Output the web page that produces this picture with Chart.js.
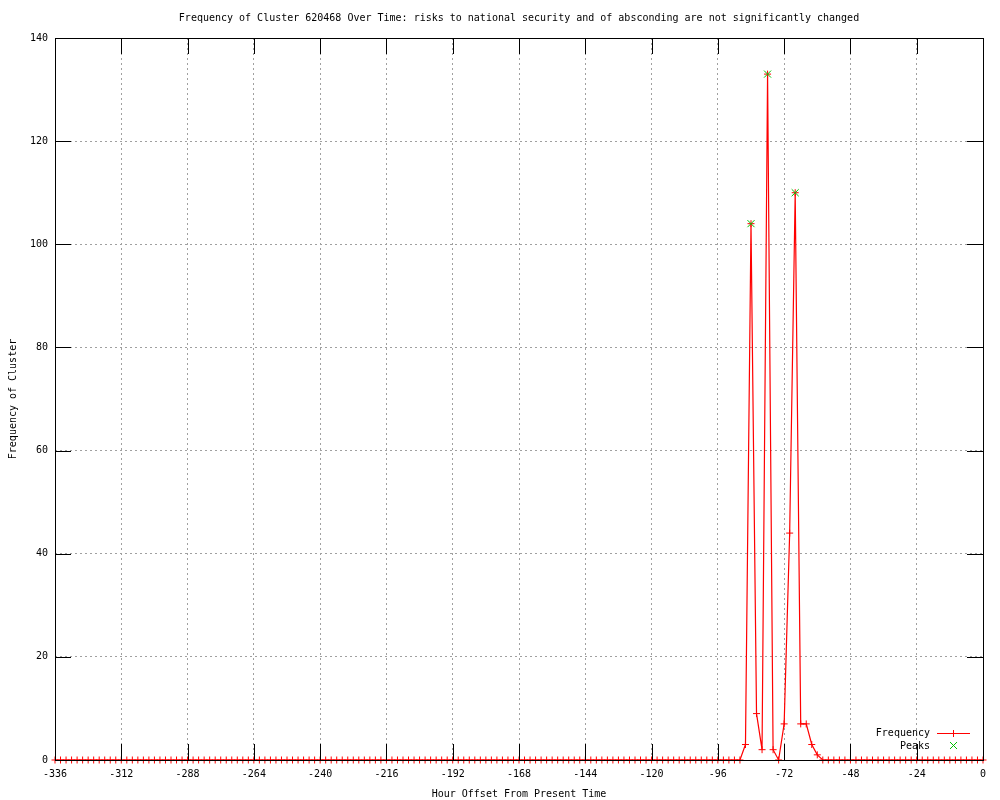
<!DOCTYPE html>
<html>
<head>
<meta charset="utf-8">
<script src="https://cdn.jsdelivr.net/npm/chart.js@4/dist/chart.umd.min.js"></script>
<style>body{margin:0;background:#fff}</style>
</head>
<body>
<canvas id="chart" width="1000" height="800"></canvas>
<script>
const chartTitle = 'Frequency of Cluster 620468 Over Time: risks to national security and of absconding are not significantly changed';

// hour offsets, one sample every 2 hours from -336 to 0
const hours = [];
for (let h = -336; h <= 0; h += 2) hours.push(h);

const frequency = [
    0, 0, 0, 0, 0, 0, 0, 0, 0, 0, 0, 0, 0, 0, 0, 0, 0, 0, 0, 0, 0, 0, 0, 0, 0,
    0, 0, 0, 0, 0, 0, 0, 0, 0, 0, 0, 0, 0, 0, 0, 0, 0, 0, 0, 0, 0, 0, 0, 0, 0,
    0, 0, 0, 0, 0, 0, 0, 0, 0, 0, 0, 0, 0, 0, 0, 0, 0, 0, 0, 0, 0, 0, 0, 0, 0,
    0, 0, 0, 0, 0, 0, 0, 0, 0, 0, 0, 0, 0, 0, 0, 0, 0, 0, 0, 0, 0, 0, 0, 0, 0,
    0, 0, 0, 0, 0, 0, 0, 0, 0, 0, 0, 0, 0, 0, 0, 0, 0, 0, 0, 0, 0, 0, 0, 0, 0,
    3, 104, 9, 2, 133, 2, 0, 7, 44, 110, 7, 7, 3, 1,
    0, 0, 0, 0, 0, 0, 0, 0, 0, 0, 0, 0, 0, 0, 0,
    0, 0, 0, 0, 0, 0, 0, 0, 0, 0, 0, 0, 0, 0, 0
];

const peakHours = [-84, -78, -68];
const peakValues = [104, 133, 110];

const RED = 'rgb(255, 0, 0)';
const GREEN = 'rgb(0, 192, 0)';
const TICK_LEN = 16;

Chart.defaults.font.family = 'DejaVu Sans Mono';
Chart.defaults.font.size = 10;
Chart.defaults.color = '#000';

// gnuplot style frame: box, inward ticks on all four sides, title and key
const gnuplotFrame = {
    id: 'gnuplotFrame',
    afterDraw(chart) {
        const ctx = chart.ctx;
        const a = chart.chartArea;
        const xs = chart.scales.x, ys = chart.scales.y;
        ctx.save();
        ctx.fillStyle = '#000';
        xs.ticks.forEach(t => {
            const px = Math.round(xs.getPixelForValue(t.value));
            ctx.fillRect(px, a.bottom - TICK_LEN, 1, TICK_LEN);
            ctx.fillRect(px, a.top, 1, TICK_LEN);
        });
        ys.ticks.forEach(t => {
            const py = Math.round(ys.getPixelForValue(t.value));
            ctx.fillRect(a.left, py, TICK_LEN, 1);
            ctx.fillRect(a.right - TICK_LEN, py, TICK_LEN, 1);
        });
        ctx.strokeStyle = '#000';
        ctx.lineWidth = 1;
        ctx.strokeRect(Math.round(a.left) + 0.5, Math.round(a.top) + 0.5,
            Math.round(a.right - a.left), Math.round(a.bottom - a.top));

        ctx.font = '10px "DejaVu Sans Mono"';
        ctx.fillStyle = '#000';
        ctx.textBaseline = 'middle';
        ctx.textAlign = 'center';
        ctx.fillText(chartTitle, (a.left + a.right) / 2, 18);

        // key
        ctx.textAlign = 'right';
        ctx.fillText('Frequency', 930, 733);
        ctx.fillText('Peaks', 930, 746);
        ctx.fillStyle = RED;
        ctx.fillRect(937, 733, 33, 1);
        ctx.fillRect(953, 730, 1, 7);
        ctx.strokeStyle = GREEN;
        ctx.beginPath();
        ctx.moveTo(950, 742); ctx.lineTo(957, 749);
        ctx.moveTo(957, 742); ctx.lineTo(950, 749);
        ctx.stroke();
        ctx.restore();
    }
};

new Chart(document.getElementById('chart'), {
    type: 'line',
    data: {
        datasets: [
            {
                label: 'Peaks',
                data: peakHours.map((h, i) => ({ x: h, y: peakValues[i] })),
                showLine: false,
                pointStyle: 'crossRot',
                pointRadius: 5,
                pointBorderColor: GREEN,
                pointBorderWidth: 1,
                clip: false
            },
            {
                label: 'Frequency',
                data: hours.map((h, i) => ({ x: h, y: frequency[i] })),
                borderColor: RED,
                borderWidth: 1.2,
                tension: 0,
                pointStyle: 'cross',
                pointRadius: 3.5,
                pointBorderColor: RED,
                pointBorderWidth: 1,
                clip: false
            }
        ]
    },
    options: {
        responsive: false,
        animation: false,
        events: [],
        layout: { padding: { top: 38, right: 17, left: 0, bottom: 0 } },
        plugins: {
            legend: { display: false },
            title: { display: false },
            tooltip: { enabled: false }
        },
        scales: {
            x: {
                type: 'linear',
                min: -336,
                max: 0,
                ticks: { stepSize: 24, padding: 8, maxRotation: 0, autoSkip: false },
                grid: { color: '#a0a0a0', drawTicks: false, tickLength: 0 },
                border: { display: false, dash: [2, 3] },
                title: { display: true, text: 'Hour Offset From Present Time', padding: { top: 0, bottom: 0 } },
                afterFit(scale) { scale.height = 40; }
            },
            y: {
                min: 0,
                max: 140,
                ticks: { stepSize: 20, padding: 7 },
                grid: { color: '#a0a0a0', drawTicks: false, tickLength: 0 },
                border: { display: false, dash: [2, 3] },
                title: { display: true, text: 'Frequency of Cluster', padding: { top: 7, bottom: 0 } },
                afterFit(scale) { scale.width = 55; }
            }
        }
    },
    plugins: [gnuplotFrame]
});
</script>
</body>
</html>
